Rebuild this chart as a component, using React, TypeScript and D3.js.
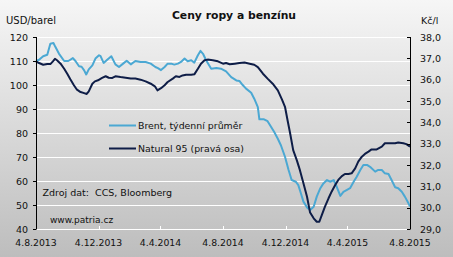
import React from "react";
import * as d3 from "d3";

const brentDates = ["2013-08-04","2013-08-10","2013-08-18","2013-08-26","2013-09-01","2013-09-07","2013-09-11","2013-09-18","2013-09-28","2013-10-06","2013-10-15","2013-10-20","2013-10-27","2013-11-01","2013-11-06","2013-11-10","2013-11-15","2013-11-22","2013-11-28","2013-12-05","2013-12-08","2013-12-14","2013-12-21","2013-12-29","2014-01-06","2014-01-13","2014-01-21","2014-01-28","2014-02-05","2014-02-14","2014-02-24","2014-03-06","2014-03-16","2014-03-25","2014-03-30","2014-04-05","2014-04-12","2014-04-18","2014-04-25","2014-05-01","2014-05-08","2014-05-14","2014-05-21","2014-05-27","2014-06-03","2014-06-09","2014-06-16","2014-06-21","2014-06-26","2014-07-02","2014-07-12","2014-07-22","2014-07-31","2014-08-10","2014-08-20","2014-08-30","2014-09-05","2014-09-11","2014-09-18","2014-09-28","2014-10-04","2014-10-11","2014-10-14","2014-10-23","2014-10-30","2014-11-06","2014-11-12","2014-11-19","2014-11-25","2014-12-03","2014-12-10","2014-12-16","2014-12-24","2014-12-29","2015-01-03","2015-01-08","2015-01-15","2015-01-21","2015-01-28","2015-02-03","2015-02-10","2015-02-16","2015-02-23","2015-03-01","2015-03-08","2015-03-14","2015-03-21","2015-03-27","2015-04-03","2015-04-09","2015-04-16","2015-04-22","2015-04-29","2015-05-05","2015-05-12","2015-05-18","2015-05-28","2015-06-03","2015-06-10","2015-06-16","2015-06-23","2015-06-29","2015-07-06","2015-07-12","2015-07-19","2015-07-25","2015-08-01","2015-08-04"];
const brentValues = [110.0,110.5,112.0,112.6,117.2,117.5,115.8,113.0,110.0,110.0,111.2,110.0,107.8,107.6,106.1,104.4,106.5,108.2,111.0,112.4,112.0,109.2,110.5,112.0,108.6,107.5,108.9,110.1,108.6,110.0,109.6,109.6,108.9,107.5,107.0,106.2,107.5,108.9,108.9,108.5,108.9,109.6,111.0,109.9,110.3,109.3,112.4,114.2,113.0,110.3,106.8,107.1,106.8,105.7,103.3,101.9,101.7,100.1,98.5,96.8,94.3,90.8,85.7,85.7,84.9,82.5,80.4,77.6,74.9,70.1,64.6,60.4,59.7,58.3,54.9,51.4,49.0,47.9,49.3,53.5,57.0,59.0,60.4,59.7,60.4,57.6,53.8,55.5,56.3,57.0,59.7,61.8,64.6,66.7,66.7,65.9,63.9,64.6,64.6,63.2,62.9,60.4,57.4,57.0,55.5,53.5,50.7,49.3];

const naturalDates = ["2013-08-04","2013-08-10","2013-08-18","2013-08-26","2013-09-01","2013-09-06","2013-09-10","2013-09-14","2013-09-21","2013-09-28","2013-10-04","2013-10-10","2013-10-17","2013-10-23","2013-10-30","2013-11-06","2013-11-11","2013-11-15","2013-11-22","2013-11-27","2013-12-03","2013-12-11","2013-12-18","2013-12-24","2013-12-31","2014-01-06","2014-01-16","2014-01-26","2014-02-05","2014-02-14","2014-02-24","2014-03-06","2014-03-16","2014-03-24","2014-03-29","2014-04-05","2014-04-12","2014-04-18","2014-04-28","2014-05-04","2014-05-11","2014-05-17","2014-05-24","2014-06-03","2014-06-09","2014-06-16","2014-06-22","2014-06-29","2014-07-05","2014-07-15","2014-07-25","2014-08-04","2014-08-10","2014-08-17","2014-08-27","2014-09-05","2014-09-15","2014-09-25","2014-10-04","2014-10-11","2014-10-21","2014-10-30","2014-11-09","2014-11-19","2014-11-27","2014-12-03","2014-12-08","2014-12-13","2014-12-19","2014-12-26","2015-01-01","2015-01-08","2015-01-15","2015-01-21","2015-01-28","2015-02-03","2015-02-08","2015-02-13","2015-02-19","2015-02-26","2015-03-04","2015-03-11","2015-03-17","2015-03-24","2015-03-30","2015-04-06","2015-04-12","2015-04-19","2015-04-25","2015-05-02","2015-05-08","2015-05-15","2015-05-21","2015-05-31","2015-06-10","2015-06-16","2015-06-26","2015-07-06","2015-07-12","2015-07-22","2015-07-28","2015-08-04"];
const naturalValues = [36.86,36.78,36.70,36.73,36.73,36.86,36.98,36.91,36.75,36.51,36.28,36.02,35.74,35.53,35.42,35.37,35.33,35.45,35.81,35.92,35.97,36.08,36.16,36.09,36.08,36.16,36.12,36.09,36.05,36.05,36.00,35.92,35.81,35.69,35.50,35.60,35.74,35.89,36.05,36.16,36.13,36.20,36.23,36.23,36.25,36.51,36.75,36.91,36.94,36.91,36.86,36.75,36.78,36.72,36.75,36.78,36.80,36.75,36.70,36.59,36.28,36.05,35.81,35.50,35.08,34.73,34.10,33.49,32.70,32.23,31.77,31.14,30.51,29.77,29.50,29.34,29.34,29.66,30.05,30.44,30.75,31.06,31.30,31.48,31.58,31.58,31.61,31.84,32.16,32.39,32.52,32.63,32.73,32.73,32.86,33.02,33.02,33.02,33.05,33.02,32.98,32.86];

const leftTicks = [40, 50, 60, 70, 80, 90, 100, 110, 120];
const rightTicks = [29, 30, 31, 32, 33, 34, 35, 36, 37, 38];
const xTickDates = ["2013-08-04","2013-12-04","2014-04-04","2014-08-04","2014-12-04","2015-04-04","2015-08-04"];
const xTickLabels = ["4.8.2013","4.12.2013","4.4.2014","4.8.2014","4.12.2014","4.4.2015","4.8.2015"];

const title = "Ceny ropy a benzínu";
const leftUnit = "USD/barel";
const rightUnit = "Kč/l";
const brentName = "Brent, týdenní průměr";
const naturalName = "Natural 95 (pravá osa)";
const sourceNote = "Zdroj dat:  CCS, Bloomberg";
const webNote = "www.patria.cz";

const W = 453, H = 257;
const FONT = "'DejaVu Sans', Verdana, sans-serif";
const BRENT_COLOR = "#4ba8d3";
const NATURAL_COLOR = "#0e1d47";

export default function App() {
  const parse = d3.timeParse("%Y-%m-%d");
  const x = d3.scaleTime().domain([parse("2013-08-04")!, parse("2015-08-04")!]).range([36, 410]);
  const yL = d3.scaleLinear().domain([40, 120]).range([229, 37]);
  const yR = d3.scaleLinear().domain([29, 38]).range([229, 37]);

  const brent = brentDates.map((d, i) => ({ d: parse(d)!, v: brentValues[i] }));
  const natural = naturalDates.map((d, i) => ({ d: parse(d)!, v: naturalValues[i] }));

  const lineL = d3.line<{ d: Date; v: number }>().x(p => x(p.d)).y(p => yL(p.v));
  const lineR = d3.line<{ d: Date; v: number }>().x(p => x(p.d)).y(p => yR(p.v));

  const x0 = x.range()[0], x1 = x.range()[1];
  const yTop = yL(120), yBot = yL(40);

  return (
    <svg width={W} height={H} style={{ position: "fixed", left: 0, top: 0, display: "block" }} fontFamily={FONT}>
      <defs>
        <linearGradient id="bg" x1="0" y1="0" x2="0" y2="1">
          <stop offset="0" stopColor="#f6f6f6" />
          <stop offset="1" stopColor="#bdbdbd" />
        </linearGradient>
      </defs>
      <rect x={0} y={0} width={W} height={H} fill="url(#bg)" />

      {/* gridlines */}
      {leftTicks.map(t => (
        <line key={"g" + t} x1={x0} x2={x1} y1={Math.round(yL(t)) + 0.5} y2={Math.round(yL(t)) + 0.5} stroke="#ffffff" strokeWidth={1.2} />
      ))}
      {/* x ticks */}
      {xTickDates.map(d => {
        const xx = Math.round(x(parse(d)!)) + 0.5;
        return <line key={"xt" + d} x1={xx} x2={xx} y1={yBot - 3} y2={yBot} stroke="#ffffff" strokeWidth={1} />;
      })}

      {/* lines */}
      <path d={lineL(brent)!} fill="none" stroke={BRENT_COLOR} strokeWidth={2} strokeLinejoin="round" />
      <path d={lineR(natural)!} fill="none" stroke={NATURAL_COLOR} strokeWidth={2} strokeLinejoin="round" />

      {/* left axis */}
      <line x1={x0 + 0.5} x2={x0 + 0.5} y1={yTop} y2={yBot + 0.5} stroke="#000" strokeWidth={1} />
      {leftTicks.map(t => (
        <g key={"lt" + t}>
          <line x1={x0 - 3} x2={x0} y1={Math.round(yL(t)) + 0.5} y2={Math.round(yL(t)) + 0.5} stroke="#000" />
          <text x={28} y={yL(t) + 3.5} textAnchor="end" fontSize={9.5} fill="#111">{t}</text>
        </g>
      ))}
      {/* right axis */}
      <line x1={x1 + 0.5} x2={x1 + 0.5} y1={yTop} y2={yBot + 0.5} stroke="#000" strokeWidth={1} />
      {rightTicks.map(t => (
        <g key={"rt" + t}>
          <line x1={x1 - 3} x2={x1} y1={Math.round(yR(t)) + 0.5} y2={Math.round(yR(t)) + 0.5} stroke="#000" />
          <text x={420} y={yR(t) + 3.5} textAnchor="start" fontSize={9.5} fill="#111">{t.toFixed(1).replace(".", ",")}</text>
        </g>
      ))}
      {/* x labels */}
      {xTickDates.map((d, i) => (
        <text key={"xl" + d} x={x(parse(d)!)} y={246} textAnchor="middle" fontSize={9.3} fill="#111">{xTickLabels[i]}</text>
      ))}

      {/* titles */}
      <text x={234} y={19} textAnchor="middle" fontSize={10.8} fontWeight="bold" fill="#111">{title}</text>
      <text x={6} y={24} fontSize={10} fill="#111">{leftUnit}</text>
      <text x={421} y={24} fontSize={9.5} fill="#111">{rightUnit}</text>

      {/* legend */}
      <line x1={109} x2={136} y1={125.5} y2={125.5} stroke={BRENT_COLOR} strokeWidth={2} />
      <text x={138} y={128.5} fontSize={9.4} fill="#111">{brentName}</text>
      <line x1={109} x2={136} y1={148.5} y2={148.5} stroke={NATURAL_COLOR} strokeWidth={2} />
      <text x={138} y={151.5} fontSize={9.4} fill="#111">{naturalName}</text>

      {/* notes */}
      <text x={42.5} y={196} fontSize={9.5} fill="#111" style={{ whiteSpace: "pre" }}>{sourceNote}</text>
      <text x={50} y={222.5} fontSize={9} fill="#111">{webNote}</text>
    </svg>
  );
}
